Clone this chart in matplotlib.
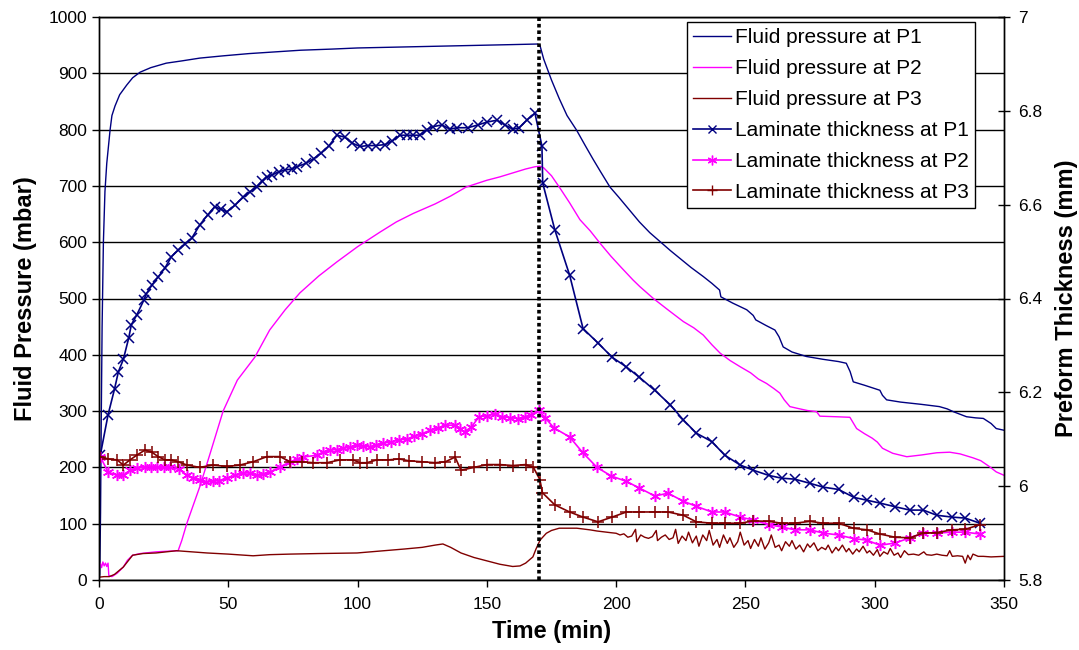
import matplotlib
matplotlib.use("Agg")
import matplotlib.pyplot as plt
from matplotlib.lines import Line2D

plt.rcParams['font.family'] = ['Liberation Sans', 'DejaVu Sans']

NAVY = '#000080'
MAGENTA = '#FF00FF'
DARKRED = '#800000'

# ---- fluid pressure (mbar), left axis ----
t_fp1 = [0, 0.3, 0.6, 0.9, 1.2, 1.7, 2.3, 3, 4.3, 5, 6.2, 8, 10.7, 13, 15.9, 20, 26, 32, 39, 48,
         58, 68, 78, 90, 100, 110, 120, 130, 140, 150, 160, 169.5, 170.5, 172, 175, 178, 181,
         184.7, 188, 191, 194, 197.6, 201, 205, 209, 213, 217, 221, 225, 229, 233.7, 237, 240,
         240.5, 245, 250.5, 253, 254, 258, 261.4, 263, 264.6, 268, 273.6, 280, 286, 289, 290.5,
         291.7, 296, 302, 303, 304.6, 310, 318, 325, 328, 330.4, 335.5, 339, 342, 345, 347, 350]
fp1 = [0, 10, 120, 300, 450, 600, 690, 740, 800, 825, 842, 862, 879, 892, 902, 910, 918, 922, 927, 931,
       935, 938, 941, 943, 945, 946, 947, 948, 949, 950, 951, 952, 950, 925, 888, 855, 825,
       799, 772, 748, 725, 698, 680, 658, 636, 617, 601, 585, 570, 555, 539, 527, 515,
       503, 492, 480, 470, 462, 452, 444, 432, 414, 405, 397, 392, 388, 385, 370,
       352, 346, 337, 328, 320, 316, 312, 308, 304, 299, 290, 288, 287, 278, 269, 266]

t_fp2 = [0, 0.5, 1, 1.5, 2, 2.5, 3, 3.5, 3.8, 5, 7, 9.4, 11, 13, 16, 22, 26, 30.6, 32, 34, 39, 43,
         48, 53.5, 60.3, 66, 72, 77.7, 85, 92, 100, 108.7, 115, 121.5, 130, 136, 142, 150, 155,
         160, 165, 168.6, 170.5, 172, 175, 178, 182, 186, 190, 193.8, 198, 202, 206.5, 209.2,
         214.4, 220, 226, 230, 233.7, 237, 240.2, 244, 247.9, 252, 255, 258.2, 261, 263.3, 265,
         267.2, 270, 274, 277.5, 278.8, 285, 290.4, 293, 296, 299, 301, 303, 307, 312.4, 318,
         324, 329, 333, 338, 341, 344.5, 347, 350]
fp2 = [25, 30, 22, 32, 25, 30, 24, 30, 8, 6, 12, 23, 35, 44, 47, 50, 51, 52, 70, 101, 166, 225,
       300, 355, 396, 444, 480, 510, 540, 565, 592, 618, 636, 651, 668, 682, 698, 710, 716,
       723, 730, 734, 735, 732, 718, 698, 670, 640, 620, 598, 575, 555, 533, 521,
       500, 480, 459, 448, 435, 418, 403, 390, 379, 368, 357, 349, 340, 332, 320,
       308, 305, 301, 299, 291, 290, 289, 269, 260, 252, 245, 234, 225, 219, 222,
       226, 227, 224, 217, 212, 201, 192, 186]

t_fp3 = [0, 2, 4, 6, 9.4, 13, 17, 22, 30, 36, 41.8, 50, 59.6, 66, 73.9, 85, 99.8, 105, 110, 118,
         125, 130, 133, 136, 140, 145, 150, 155, 160, 162.8, 165, 167.8, 169, 170.6, 173, 175,
         178, 184.8, 190, 192.6, 196, 198, 200, 201.5, 203, 204.5, 206, 207.5, 208, 209.5, 211,
         212.5, 214, 215.5, 216, 217.5, 219, 220.5, 222, 223, 224, 225.5, 227, 228, 229.5, 231,
         232, 233.5, 235, 236, 237.5, 239, 240, 241.5, 243, 244, 245.5, 247, 248, 249.5, 251,
         252, 253.5, 255, 256, 257.5, 259, 260, 261.5, 263, 264, 265.5, 267, 268, 269.5, 271,
         272.5, 274, 275, 276.5, 278, 279.5, 281, 282, 283.5, 285, 286, 287.5, 289, 290, 291.5,
         293, 294, 295.5, 297, 298, 299.5, 301, 302, 303.5, 305, 306, 307.5, 309, 310, 311.5,
         313, 315, 317, 319, 320, 322, 324, 326, 328, 329, 330, 332, 334, 335, 336, 337, 338,
         340, 342, 345, 350]
fp3 = [5, 6, 6, 10, 23, 44, 47, 48, 52, 50, 48, 46, 43, 45, 46, 47, 48, 50, 52, 55,
       58, 62, 64, 58, 48, 40, 34, 28, 24, 25, 30, 41, 55, 71, 83, 88,
       92, 92, 89, 87, 85, 84, 83, 80, 82, 76, 78, 90, 68, 80, 76,
       74, 77, 88, 70, 76, 80, 72, 75, 90, 65, 78, 70, 85, 66, 78,
       60, 80, 70, 88, 62, 72, 58, 80, 65, 75, 58, 68, 85, 62, 70,
       56, 72, 60, 75, 55, 66, 80, 58, 62, 52, 68, 60, 70, 55, 62,
       50, 64, 58, 66, 52, 58, 54, 62, 48, 58, 52, 62, 50, 56, 46,
       55, 50, 60, 48, 52, 44, 54, 42, 50, 46, 56, 44, 48, 40, 52,
       45, 46, 44, 50, 45, 44, 46, 44, 43, 52, 42, 43, 42, 30, 44, 36, 46,
       42, 42, 41, 42]

# ---- laminate thickness (mm), right axis ----
t_th1 = [0.5, 3.5, 6, 7.5, 9.4, 11.5, 12.5, 14.6, 17.3, 18.3, 20.5, 22.9, 25.5, 28, 30.6, 33.2,
         35.8, 39, 42, 44.8, 47, 49.5, 52.6, 55.8, 58.5, 61, 63, 65, 66.8, 69.5, 72, 74.5, 76.6,
         80, 83, 86, 89, 92, 95, 98, 101, 104, 107, 110.6, 113.5, 116.4, 119, 121.5, 124, 126.8,
         129, 132.6, 135.7, 138.4, 142.7, 146.6, 150, 153.9, 157, 160, 162.5, 165.4, 168.6,
         171.3, 171.6, 176.3, 182, 187.2, 193, 198.4, 204, 209, 215, 221, 226, 231, 237, 242,
         248, 253, 259, 264, 269, 275, 280, 286, 292, 297, 302, 308, 313.6, 318.8, 324, 330,
         335, 340.7]
th1 = [6.066, 6.152, 6.207, 6.244, 6.270, 6.316, 6.344, 6.365, 6.396, 6.410, 6.429, 6.446, 6.465,
       6.489, 6.503, 6.516, 6.528, 6.557, 6.578, 6.596, 6.590, 6.585, 6.599, 6.616, 6.628, 6.638,
       6.650, 6.659, 6.663, 6.670, 6.674, 6.676, 6.681, 6.688, 6.698, 6.710, 6.726, 6.748, 6.744,
       6.731, 6.724, 6.726, 6.726, 6.728, 6.736, 6.748, 6.748, 6.748, 6.748, 6.760, 6.766, 6.770,
       6.761, 6.764, 6.764, 6.770, 6.776, 6.780, 6.770, 6.761, 6.764, 6.780, 6.795, 6.725, 6.646,
       6.546, 6.450, 6.336, 6.305, 6.275, 6.254, 6.232, 6.204, 6.173, 6.141, 6.113, 6.095, 6.066,
       6.045, 6.034, 6.023, 6.017, 6.015, 6.006, 5.998, 5.993, 5.976, 5.970, 5.964, 5.956, 5.949,
       5.949, 5.938, 5.934, 5.932, 5.921]

t_th2 = [0.5, 3.5, 7, 9.4, 12, 14.6, 17.8, 20, 22.4, 25, 27.5, 31, 34, 36.5, 39, 41.5, 44, 46.5,
         49.5, 52.5, 55.8, 58.5, 61, 63.5, 66, 70, 73.9, 76.5, 79, 84.3, 86.5, 89.3, 92, 94.4, 97,
         99.8, 102, 104.8, 107, 110, 113, 116, 119, 122, 125, 128, 131, 134, 137.7, 139.5, 141.5,
         144, 147, 150, 153, 156, 159, 162, 164.7, 167, 170, 172.5, 176, 182, 187, 192.6, 198,
         204, 209, 215, 220, 226, 231, 237, 242, 248, 253, 259, 264, 269, 275, 280, 286, 292,
         297, 302, 308, 313.6, 318.8, 324, 330, 335, 340.7]
th2 = [6.063, 6.030, 6.023, 6.023, 6.034, 6.039, 6.040, 6.041, 6.040, 6.040, 6.040, 6.036, 6.023,
       6.018, 6.014, 6.009, 6.010, 6.012, 6.017, 6.023, 6.028, 6.028, 6.023, 6.026, 6.030, 6.041,
       6.052, 6.057, 6.062, 6.066, 6.072, 6.077, 6.078, 6.081, 6.083, 6.088, 6.086, 6.084, 6.088,
       6.092, 6.094, 6.099, 6.100, 6.106, 6.112, 6.119, 6.124, 6.130, 6.130, 6.122, 6.116, 6.126,
       6.148, 6.150, 6.154, 6.148, 6.146, 6.144, 6.148, 6.152, 6.162, 6.146, 6.124, 6.105, 6.072,
       6.040, 6.022, 6.010, 5.996, 5.979, 5.985, 5.968, 5.957, 5.945, 5.945, 5.934, 5.928, 5.918,
       5.913, 5.907, 5.907, 5.900, 5.896, 5.888, 5.885, 5.874, 5.879, 5.890, 5.900, 5.900, 5.902,
       5.902, 5.898]

t_th3 = [0.5, 3.5, 7, 9.4, 12, 14.6, 17.8, 20.5, 22.9, 25.5, 28, 30.6, 34, 39, 44, 49.5, 54.5,
         59.6, 65, 70, 73.9, 78.5, 82.8, 88.2, 93.2, 98.2, 101, 103.6, 107.5, 111.8, 116, 120,
         125, 130, 134, 137.7, 140, 145, 150, 155, 160, 165, 168, 170.5, 171.5, 176.3, 182,
         187.2, 193, 198.4, 204, 209, 215, 220, 226, 231, 237, 242, 248, 253, 259, 264, 269,
         275, 280, 286, 292, 297, 302, 308, 313.6, 318.8, 324, 330, 335, 340.7]
th3 = [6.063, 6.058, 6.056, 6.045, 6.056, 6.066, 6.077, 6.072, 6.063, 6.056, 6.056, 6.052, 6.045,
       6.040, 6.045, 6.042, 6.045, 6.052, 6.063, 6.063, 6.052, 6.052, 6.050, 6.050, 6.056, 6.056,
       6.050, 6.050, 6.056, 6.056, 6.058, 6.054, 6.052, 6.050, 6.052, 6.062, 6.034, 6.040, 6.046,
       6.046, 6.044, 6.046, 6.040, 6.014, 5.986, 5.960, 5.945, 5.934, 5.924, 5.934, 5.945, 5.945,
       5.945, 5.945, 5.938, 5.924, 5.921, 5.921, 5.921, 5.926, 5.925, 5.921, 5.921, 5.925, 5.921,
       5.921, 5.910, 5.907, 5.898, 5.891, 5.890, 5.900, 5.901, 5.907, 5.908, 5.918]

x_ticks = [0, 50, 100, 150, 200, 250, 300, 350]
left_ticks = [0, 100, 200, 300, 400, 500, 600, 700, 800, 900, 1000]
right_ticks = [5.8, 6.0, 6.2, 6.4, 6.6, 6.8, 7.0]
right_labels = ['5.8', '6', '6.2', '6.4', '6.6', '6.8', '7']
t_vacuum_release = 170.2

fig = plt.figure(figsize=(10.79, 6.5), dpi=100)
ax = fig.add_axes([99 / 1079, 1 - 580 / 650, 905 / 1079, 563 / 650])
ax2 = ax.twinx()

ax.plot(t_fp1, fp1, color=NAVY, lw=1.0)
ax.plot(t_fp2, fp2, color=MAGENTA, lw=1.0)
ax.plot(t_fp3, fp3, color=DARKRED, lw=1.0)

ax2.plot(t_th1, th1, color=NAVY, lw=1.2, marker='x', ms=7, mew=1.1)
ax2.plot(t_th2, th2, color=MAGENTA, lw=1.2, marker=(6, 2, 0), ms=8, mew=1.1)
ax2.plot(t_th3, th3, color=DARKRED, lw=1.2, marker='+', ms=9, mew=1.1)
ax2.axvline(t_vacuum_release, color='black', lw=2.6, linestyle=(0, (1, 0.8)), zorder=5)

ax.set_xlim(0, 350)
ax.set_ylim(0, 1000)
ax2.set_ylim(5.8, 7.0)
ax.set_xticks(x_ticks)
ax.set_yticks(left_ticks)
ax2.set_yticks(right_ticks)
ax2.set_yticklabels(right_labels)

ax.yaxis.grid(True, color='black', lw=1.0)
ax.set_axisbelow(True)

ax.tick_params(axis='both', labelsize=12.5, direction='out', length=5, width=1, colors='black')
ax.tick_params(axis='x', pad=7)
ax2.tick_params(axis='y', labelsize=12.5, direction='inout', length=9, width=1, pad=6)
for sp in list(ax.spines.values()) + list(ax2.spines.values()):
    sp.set_color('black')
    sp.set_linewidth(1.0)

ax.set_xlabel('Time (min)', fontsize=17, fontweight='bold', labelpad=6)
ax.set_ylabel('Fluid Pressure (mbar)', fontsize=17, fontweight='bold', labelpad=8)
ax2.set_ylabel('Preform Thickness (mm)', fontsize=17, fontweight='bold', labelpad=9)

handles = [
    Line2D([], [], color=NAVY, lw=1.0),
    Line2D([], [], color=MAGENTA, lw=1.0),
    Line2D([], [], color=DARKRED, lw=1.0),
    Line2D([], [], color=NAVY, lw=1.2, marker='x', ms=6),
    Line2D([], [], color=MAGENTA, lw=1.2, marker=(6, 2, 0), ms=7),
    Line2D([], [], color=DARKRED, lw=1.2, marker='+', ms=7),
]
labels = ['Fluid pressure at P1', 'Fluid pressure at P2', 'Fluid pressure at P3',
          'Laminate thickness at P1', 'Laminate thickness at P2', 'Laminate thickness at P3']
leg = ax2.legend(handles, labels, loc='upper right', bbox_to_anchor=(0.968, 0.991),
                 borderaxespad=0, fontsize=15, frameon=True, fancybox=False,
                 edgecolor='black', framealpha=1, handlelength=1.8, handletextpad=0.2,
                 labelspacing=0.57, borderpad=0.3)
leg.get_frame().set_linewidth(1.0)
leg.set_zorder(10)

fig.savefig('out.png', dpi=100)
